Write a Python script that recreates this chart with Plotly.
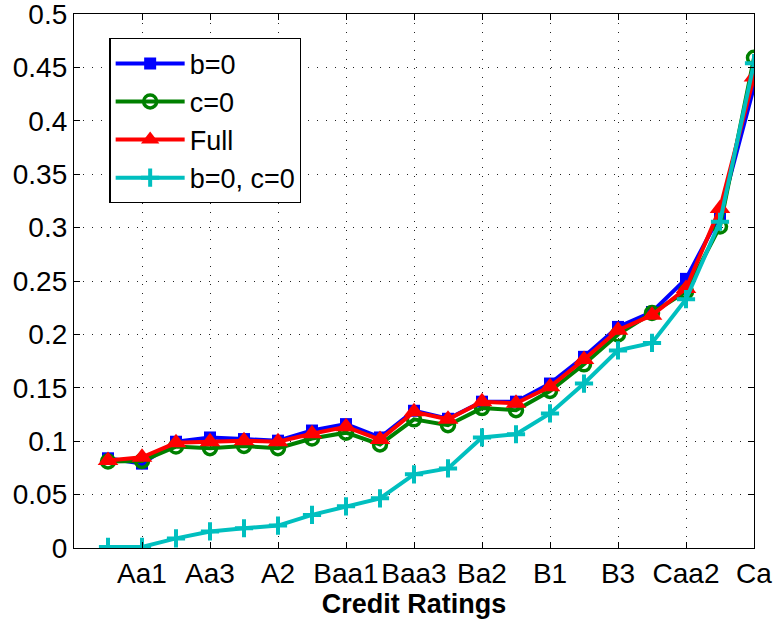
import plotly.graph_objects as go

ratings = ["Aaa", "Aa1", "Aa2", "Aa3", "A1", "A2", "A3", "Baa1", "Baa2", "Baa3",
           "Ba1", "Ba2", "Ba3", "B1", "B2", "B3", "Caa1", "Caa2", "Caa3", "Ca"]
x_idx = list(range(1, len(ratings) + 1))

b0 = [0.084, 0.079, 0.0995, 0.1035, 0.102, 0.1005, 0.110, 0.116, 0.1035, 0.1285,
      0.121, 0.137, 0.137, 0.154, 0.179, 0.207, 0.221, 0.252, 0.312, 0.432]
c0 = [0.081, 0.0815, 0.095, 0.0935, 0.0955, 0.0935, 0.1025, 0.108, 0.097, 0.1205,
      0.115, 0.131, 0.129, 0.147, 0.172, 0.200, 0.220, 0.240, 0.301, 0.459]
full = [0.082, 0.085, 0.0985, 0.0995, 0.1005, 0.0995, 0.107, 0.1135, 0.1015, 0.1275,
        0.1205, 0.137, 0.1355, 0.151, 0.1765, 0.204, 0.218, 0.243, 0.318, 0.441]
b0c0 = [0.001, 0.001, 0.009, 0.0155, 0.0185, 0.021, 0.031, 0.039, 0.0465, 0.069,
        0.0745, 0.1035, 0.1065, 0.126, 0.154, 0.185, 0.192, 0.233, 0.3055, 0.454]

xtick_vals = [2, 4, 6, 8, 10, 12, 14, 16, 18, 20]
xtick_text = [ratings[v - 1] for v in xtick_vals]
ytick_vals = [0, 0.05, 0.1, 0.15, 0.2, 0.25, 0.3, 0.35, 0.4, 0.45, 0.5]
ytick_text = ["0", "0.05", "0.1", "0.15", "0.2", "0.25", "0.3", "0.35", "0.4", "0.45", "0.5"]

FONT = "Liberation Sans, Arial, sans-serif"

fig = go.Figure()
fig.add_trace(go.Scatter(
    x=x_idx, y=b0, name="b=0", mode="lines+markers",
    line=dict(color="#0000ff", width=4),
    marker=dict(symbol="square", size=12, color="#0000ff")))
fig.add_trace(go.Scatter(
    x=x_idx, y=c0, name="c=0", mode="lines+markers",
    line=dict(color="#008000", width=4),
    marker=dict(symbol="circle-open", size=13, color="#008000", line=dict(width=3.5, color="#008000"))))
fig.add_trace(go.Scatter(
    x=x_idx, y=full, name="Full", mode="lines+markers",
    line=dict(color="#ff0000", width=4),
    marker=dict(symbol="triangle-up", size=18, color="#ff0000")))
fig.add_trace(go.Scatter(
    x=x_idx, y=b0c0, name="b=0, c=0", mode="lines+markers",
    line=dict(color="#00bfbf", width=4),
    marker=dict(symbol="cross-thin-open", size=13, color="#00bfbf", line=dict(width=4, color="#00bfbf"))))

axis_common = dict(
    showline=True, linecolor="black", linewidth=1.3, mirror="ticks",
    ticks="inside", ticklen=6, tickcolor="black", tickwidth=1,
    showgrid=True, gridcolor="#222222", gridwidth=1, griddash="1px,8px",
    zeroline=False, tickfont=dict(family=FONT, size=28, color="black"),
    automargin=False, ticklabeloverflow="allow",
)

fig.update_xaxes(range=[0, 20], tickmode="array", tickvals=xtick_vals, ticktext=xtick_text,
                 title=dict(text="<b>Credit Ratings</b>", font=dict(family=FONT, size=27, color="black"),
                            standoff=0),
                 ticklabelstandoff=0,
                 **axis_common)
fig.update_yaxes(range=[0, 0.5], tickmode="array", tickvals=ytick_vals, ticktext=ytick_text,
                 **axis_common)

fig.update_layout(
    width=773, height=623,
    margin=dict(l=74, r=19, t=14, b=75),
    paper_bgcolor="white", plot_bgcolor="white",
    font=dict(family=FONT, size=28, color="black"),
    showlegend=True,
    legend=dict(x=0.052, y=0.955, xanchor="left", yanchor="top",
                bgcolor="white", bordercolor="black", borderwidth=1.3,
                font=dict(family=FONT, size=27, color="black"),
                itemwidth=69, tracegroupgap=0),
)

fig.write_html("out.html",
               config={"displayModeBar": False},
               post_script="document.body.style.margin='0';document.body.style.overflow='hidden';")
